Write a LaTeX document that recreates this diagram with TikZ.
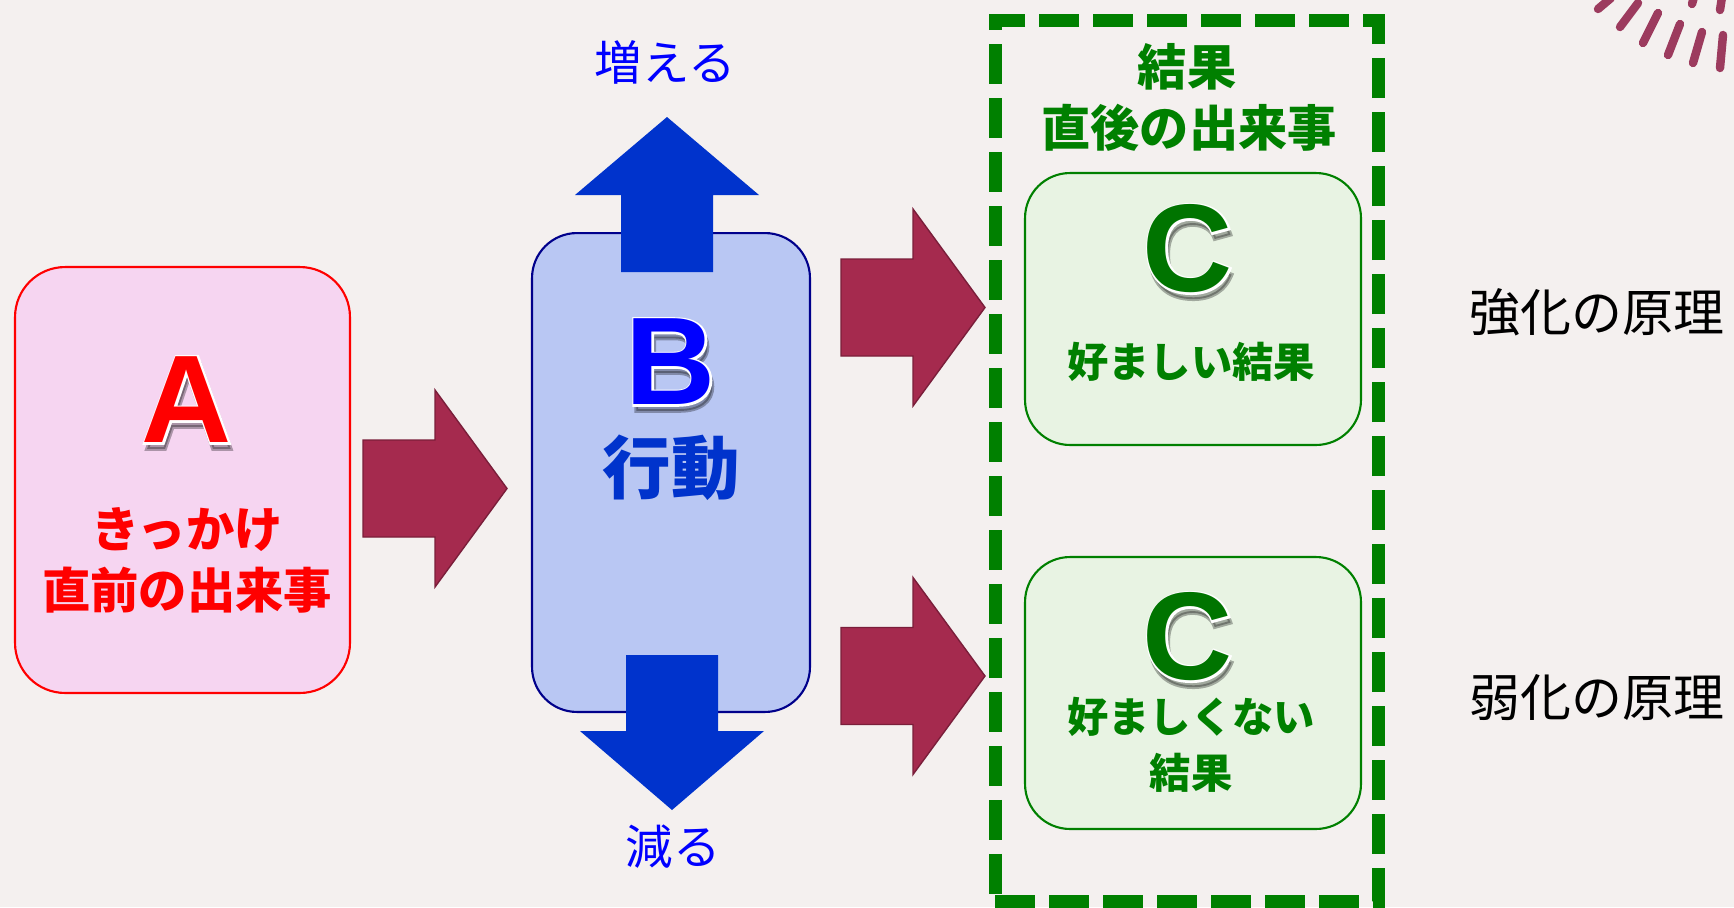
\documentclass[tikz,border=0pt]{standalone}
\usepackage{fontspec}
\usetikzlibrary{positioning}

\newfontfamily\jpfont{Noto Sans CJK JP}
\newfontfamily\capfont{Liberation Sans}
\newfontfamily\halofont{Liberation Sans}[FakeBold=3, BoldFeatures={FakeBold=3}]

\definecolor{paper}{HTML}{F4F0EF}
\definecolor{cuepink}{HTML}{F6D5F1}
\definecolor{actblue}{HTML}{B9C7F3}
\definecolor{resgreen}{HTML}{E8F3E3}
\definecolor{wine}{HTML}{A52A4E}
\definecolor{winedark}{HTML}{7A1E3A}
\definecolor{royal}{HTML}{0033CC}
\definecolor{navyline}{HTML}{00008B}
\definecolor{leaf}{HTML}{008000}
\definecolor{leafdark}{HTML}{007400}
\definecolor{brush}{HTML}{9C3B5E}

\newcommand{\jpsize}[1]{\jpfont\fontsize{#1}{1.2\dimexpr#1\relax}\selectfont}

% fat arrow to the right, tail of the shaft at #1
\newcommand{\winearrow}[1]{%
  \draw[winearr] (#1) ++(0,-48.5) -- ++(72,0) -- ++(0,-50) -- ++(72,98.5)
    -- ++(-72,98.5) -- ++(0,-50) -- ++(-72,0) -- cycle;}

\tikzset{
  cuebox/.style={draw=red, line width=1.2pt, fill=cuepink, rounded corners=1cm,
    inner sep=0pt, minimum width=6.7cm, minimum height=8.52cm},
  actbox/.style={draw=navyline, line width=1.2pt, fill=actblue, rounded corners=0.9cm,
    inner sep=0pt, minimum width=5.56cm, minimum height=9.58cm},
  resbox/.style={draw=leaf, line width=1.2pt, fill=resgreen, rounded corners=0.9cm,
    inner sep=0pt, minimum width=6.72cm, minimum height=5.44cm},
  resframe/.style={draw=leaf, line width=7.4pt, dash pattern=on 0.8cm off 0.28cm,
    inner sep=0pt, minimum width=7.68cm, minimum height=17.64cm},
  winearr/.style={fill=wine, draw=winedark, line width=0.8pt},
  bluearr/.style={fill=royal},
  letter/.style={inner sep=0pt, font=\capfont\bfseries\fontsize{71pt}{71pt}\selectfont},
  letterhalo/.style={inner sep=0pt, text=white, font=\halofont\bfseries\fontsize{71pt}{71pt}\selectfont},
  lettershade/.style={letterhalo, text=black, opacity=0.3},
  cuetext/.style={inner sep=0pt, text=red, font=\jpsize{27.5pt}\bfseries},
  acttext/.style={inner sep=0pt, text=royal, font=\jpsize{39pt}\bfseries},
  updown/.style={inner sep=0pt, text=blue, font=\jpsize{27pt}},
  restitle/.style={inner sep=0pt, text=leaf, font=\jpsize{28pt}\bfseries},
  restext/.style={inner sep=0pt, text=leaf, font=\jpsize{23.5pt}\bfseries},
  ruletext/.style={inner sep=0pt, text=black, font=\jpsize{29pt}},
}

\begin{document}
\begin{tikzpicture}[x=0.02cm, y=-0.02cm]
  \fill[paper] (0,0) rectangle (1734,907);
  \useasboundingbox (0,0) rectangle (1734,907);

  % brush strokes in the corner
  \foreach \xa/\ya/\xb/\yb in {1598/9/1611/-2, 1620/27/1638/3, 1643/43/1658/13,
      1668/55/1680/24, 1693/63/1702/32, 1720/68/1723/35, 1692/4/1694/-3, 1720/10/1722/-3}
    \draw[brush, line width=4.8pt, line cap=round] (\xa,\ya) -- (\xb,\yb);

  % A: antecedent
  \node[cuebox] (cue) at (182.5,480) {};
  \node[lettershade] (cueshade) at (189,406) {A};
  \node[letterhalo] (cuehalo) at (187,400) {A};
  \node[letter, text=red] (cueletter) at (187,400) {A};
  \node[cuetext] (cueline1) at (187,530) {きっかけ};
  \node[cuetext] (cueline2) at (187,590) {直前の出来事};

  % B: behaviour
  \node[actbox] (act) at (671,472.5) {};
  \node[lettershade] (actshade) at (673,368) {B};
  \node[letterhalo] (acthalo) at (671,362) {B};
  \node[letter, text=blue] (actletter) at (671,362) {B};
  \node[acttext] (actname) at (671,468) {行動};

  \coordinate (up) at (667,272);
  \coordinate (down) at (671.5,655);
  \fill[bluearr] (up) ++(-46,0) -- ++(0,-77) -- ++(-46,0) -- ++(92,-78)
    -- ++(92,78) -- ++(-46,0) -- ++(0,77) -- cycle;
  \fill[bluearr] (down) ++(-45.5,0) -- ++(0,76) -- ++(-46,0) -- ++(92,79)
    -- ++(92,-79) -- ++(-46,0) -- ++(0,-76) -- cycle;
  \node[updown] (more) at (665,62) {増える};
  \node[updown] (less) at (673,847) {減る};

  % C: consequences
  \node[resframe] (frame) at (1187,461) {};
  \node[restitle] (restitle1) at (1187,67) {結果};
  \node[restitle] (restitle2) at (1189,128) {直後の出来事};

  \node[resbox] (good) at (1193,309) {};
  \node[lettershade] (goodshade) at (1190,255) {C};
  \node[letterhalo] (goodhalo) at (1188,249) {C};
  \node[letter, text=leafdark] (goodletter) at (1188,249) {C};
  \node[restext] (goodtext) at (1191,362) {好ましい結果};

  \node[resbox] (bad) at (1193,693) {};
  \node[lettershade] (badshade) at (1190,643) {C};
  \node[letterhalo] (badhalo) at (1188,637) {C};
  \node[letter, text=leafdark] (badletter) at (1188,637) {C};
  \node[restext] (badtext1) at (1191,717) {好ましくない};
  \node[restext] (badtext2) at (1191,773) {結果};

  % arrows between the boxes
  \coordinate (ab) at (363,488.5);
  \coordinate (bc1) at (841,307.5);
  \coordinate (bc2) at (841,676);
  \winearrow{ab}
  \winearrow{bc1}
  \winearrow{bc2}

  \node[ruletext] (reinforce) at (1597,312) {強化の原理};
  \node[ruletext] (punish) at (1597,698) {弱化の原理};
\end{tikzpicture}
\end{document}
